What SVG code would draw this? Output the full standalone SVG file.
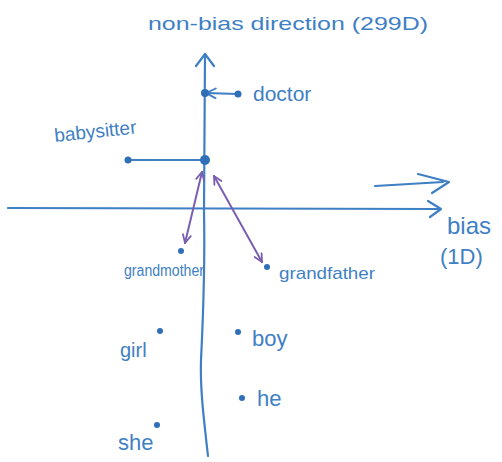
<svg xmlns="http://www.w3.org/2000/svg" width="502" height="462" viewBox="0 0 502 462">
<defs>
<style>
.ax{stroke:#3f7fc4;stroke-width:2.2;fill:none;stroke-linecap:round;stroke-linejoin:round}
.pu{stroke:#7a5fb0;stroke-width:2;fill:none;stroke-linecap:round}
.t{font-family:"Liberation Sans",Arial,sans-serif;fill:#3f7fc4}
.d{fill:#2f6fb8}
</style>
<marker id="hb" viewBox="0 0 10 10" refX="9" refY="5" markerWidth="12" markerHeight="12" markerUnits="userSpaceOnUse" orient="auto">
<path d="M1,1 L9,5 L1,9" fill="none" stroke="#3f7fc4" stroke-width="1.6" stroke-linecap="round"/>
</marker>
<marker id="hp" viewBox="0 0 10 10" refX="9" refY="5" markerWidth="10" markerHeight="10" markerUnits="userSpaceOnUse" orient="auto-start-reverse">
<path d="M1,1 L9,5 L1,9" fill="none" stroke="#7a5fb0" stroke-width="1.8" stroke-linecap="round"/>
</marker>
</defs>
<rect width="502" height="462" fill="#ffffff"/>
<g id="connectors">
<path id="y-axis" class="ax" d="M205,54 L204,210 C205,260 203,320 201,360 C200,390 204,420 208,456"/>
<path class="ax" d="M196,66 L205,54 L214,66"/>
<path id="x-axis" class="ax" d="M8,208 L440,209"/>
<path class="ax" d="M428,201 L441,209 L430,217"/>
<path id="bias-arrow" class="ax" d="M375,186 L443,182"/>
<path class="ax" d="M418,174 L449,182 L432,193"/>
<path id="doctor-proj" class="ax" d="M238,94 L206,93" marker-end="url(#hb)"/>
<path id="babysitter-proj" class="ax" d="M128,160 L202,160"/>
<path id="gm-link" class="pu" d="M202,172 L185,243" marker-start="url(#hp)" marker-end="url(#hp)"/>
<path id="gf-link" class="pu" d="M214,176 L262,262" marker-start="url(#hp)" marker-end="url(#hp)"/>
</g>
<g id="axis-labels">
<text class="t" x="148" y="30" font-size="19" textLength="280" lengthAdjust="spacingAndGlyphs">non-bias direction (299D)</text>
<text class="t" x="447" y="234" font-size="24">bias</text>
<text class="t" x="440" y="264" font-size="22">(1D)</text>
</g>
<g id="doctor">
<circle class="d" cx="238" cy="94" r="3.5"/>
<circle class="d" cx="205" cy="93" r="4"/>
<text class="t" x="253" y="101" font-size="21">doctor</text>
</g>
<g id="babysitter">
<circle class="d" cx="128" cy="160" r="3.5"/>
<circle class="d" cx="205" cy="160" r="5"/>
<text class="t" x="55" y="142" font-size="19" transform="rotate(-6 55 142)">babysitter</text>
</g>
<g id="grandmother">
<circle class="d" cx="181" cy="251" r="3"/>
<text class="t" x="124" y="276" font-size="16" textLength="80" lengthAdjust="spacingAndGlyphs">grandmother</text>
</g>
<g id="grandfather">
<circle class="d" cx="267" cy="267" r="3"/>
<text class="t" x="279" y="279" font-size="17" textLength="96" lengthAdjust="spacingAndGlyphs">grandfather</text>
</g>
<g id="girl">
<circle class="d" cx="160" cy="331" r="3"/>
<text class="t" x="120" y="357" font-size="20">girl</text>
</g>
<g id="boy">
<circle class="d" cx="238" cy="332" r="3"/>
<text class="t" x="252" y="346" font-size="22">boy</text>
</g>
<g id="he">
<circle class="d" cx="242" cy="398" r="3"/>
<text class="t" x="257" y="406" font-size="22">he</text>
</g>
<g id="she">
<circle class="d" cx="157" cy="425" r="3"/>
<text class="t" x="118" y="450" font-size="22">she</text>
</g>
</svg>
